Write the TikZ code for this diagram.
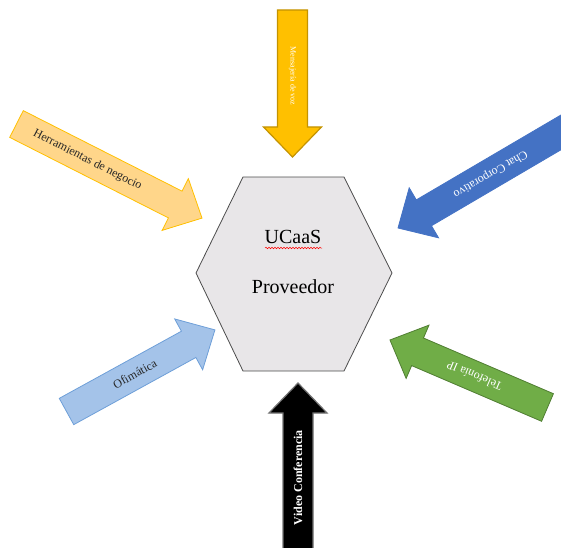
\documentclass[tikz,border=0pt]{standalone}
\usepackage{fontspec}
\setmainfont{Liberation Serif}
\usetikzlibrary{calc,decorations.pathmorphing}
\definecolor{ambar}{HTML}{FFC000}
\definecolor{ambarborde}{HTML}{C49300}
\definecolor{melon}{HTML}{FFD68A}
\definecolor{azul}{HTML}{4472C4}
\definecolor{celeste}{HTML}{A4C3E9}
\definecolor{celesteborde}{HTML}{6E9FD8}
\definecolor{verde}{HTML}{70AD47}
\definecolor{verdeborde}{HTML}{507E32}
\definecolor{hexgris}{HTML}{E8E6E8}
\def\arsw{15}\def\arhw{29}\def\arhl{30}
% block arrow: [path style][text style](tail)(angle:length:text pos){name}{text}
\def\blockarrow[#1][#2](#3)(#4:#5:#6)#7#8{
	\begin{scope}[shift={(#3)},rotate=#4]
		\draw[#1] (0,-\arsw) -- ({#5-\arhl},-\arsw) -- ({#5-\arhl},-\arhw) -- (#5,0) -- ({#5-\arhl},\arhw) -- ({#5-\arhl},\arsw) -- (0,\arsw) -- cycle;
		\node[transform shape,#2] (#7) at (#6,0) {#8};
	\end{scope}}

\begin{document}
\begin{tikzpicture}[x=1pt,y=1pt]
			%%%%% START %%%%%
			
			\useasboundingbox (0,0) rectangle (561,547);
			\clip (0,0) rectangle (561,547);
			
			\draw[line width=0.8pt, color=black!70, fill=hexgris] (243,370) -- (344,370) -- (392,274) -- (344,176) -- (243,176) -- (196,274) -- cycle;
			\node[font=\fontsize{20}{24}\selectfont] (ucaas) at (293,310) {UCaaS};
			\node[font=\fontsize{20}{24}\selectfont] (proveedor) at (293,260) {Proveedor};
			\draw[red, line width=0.5pt, decorate, decoration={snake, amplitude=0.8pt, segment length=3pt}] (265,299) -- (322,299);
			
			\blockarrow[fill=ambar, draw=ambarborde, line width=1.2pt][white, font=\fontsize{8}{9}\selectfont](292.5,537)(-90:147:66){mensajes}{Mensajería de voz}
			
			\blockarrow[fill=black, draw=black!55, line width=1.2pt][white, font=\bfseries\fontsize{12}{14}\selectfont](298,-5)(90:169:74.5){video}{Video Conferencia}
			
			\blockarrow[fill=melon, draw=ambar, line width=0.8pt][black!85, font=\fontsize{12}{14}\selectfont](16.5,423)(-26.9:208:79.6){herramientas}{Herramientas de negocio}
			
			\blockarrow[fill=azul, draw=azul, line width=0.8pt][white, font=\fontsize{12}{14}\selectfont](570.5,420.2)(210.4:200:93){chat}{Chat Corporativo}
			
			\blockarrow[fill=celeste, draw=celesteborde, line width=0.8pt][black!85, font=\fontsize{12}{14}\selectfont](66.5,135.5)(28.8:169.4:78){ofimatica}{Ofimática}
			
			\blockarrow[fill=verde, draw=verdeborde, line width=0.8pt][white, font=\fontsize{12}{14}\selectfont](547.5,139.5)(156.8:171.4:79.5){telefonia}{Telefonía IP}
			
			%%%%% END %%%%%
\end{tikzpicture}
\end{document}
